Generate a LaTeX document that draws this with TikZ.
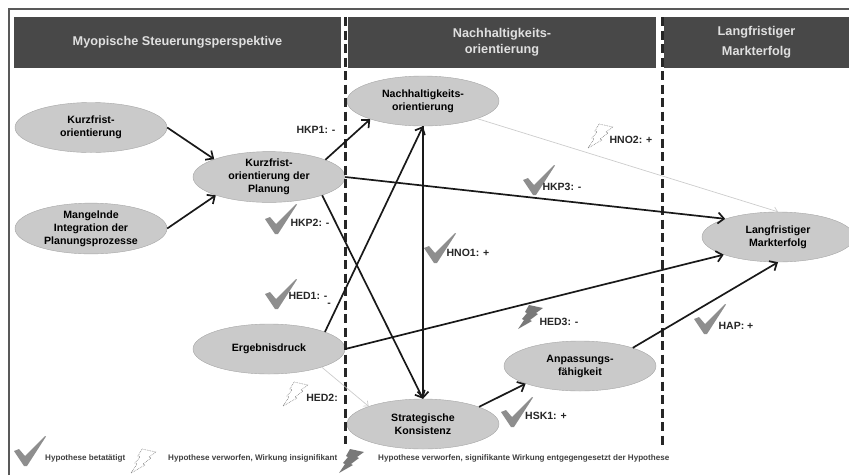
\documentclass[tikz,border=0pt]{standalone}
\usepackage{fontspec}
\setmainfont{Liberation Sans}
\usetikzlibrary{shapes.geometric,arrows.meta}
\definecolor{kopfgrau}{HTML}{484848}
\definecolor{ovalgrau}{HTML}{CACACA}
\definecolor{haken}{HTML}{8E8E8E}
\tikzset{
  kopf/.style = {fill = kopfgrau, shape = rectangle, minimum height = 51pt, inner sep = 0pt, align = center, text = white!88!black, font = \fontsize{12.7}{16}\selectfont\bfseries},
  oval/.style = {fill = ovalgrau, draw = gray!70, shape = ellipse, minimum width = 152pt, minimum height = 50pt, inner sep = 0pt, align = center, font = \fontsize{10.6}{13}\selectfont\bfseries},
  wirkung/.style = {-{Straight Barb[length = 6pt, width = 11pt]}, line width = 1.7pt, black!90},
  schwach/.style = {-{Straight Barb[length = 4pt, width = 7pt]}, line width = 0.7pt, gray!40},
  trenner/.style = {line width = 3pt, dash pattern = on 9pt off 4.5pt, black!85},
  hypo/.style = {inner sep = 0pt, text = black!85, font = \fontsize{10.5}{11}\selectfont\bfseries},
  legende/.style = {inner sep = 0pt, anchor = west, text = black!75, font = \fontsize{8.1}{8}\selectfont\bfseries},
  pics/hakenmark/.style = {code = {
    \fill[haken] (0,15) -- (5,13) -- (11,20) -- (31,0) -- (32,0.5) -- (13,30) -- (10,30) -- cycle;
  }},
  pics/blitzvoll/.style = {code = {
    \fill[haken!85!black] (11,0) -- (25,3) -- (18,8) -- (20,9) -- (12,15) -- (14,16) -- (0,24) -- (6,15) -- (4,14) -- (9,8) -- (7,7) -- cycle;
  }},
  pics/blitzleer/.style = {code = {
    \draw[haken, densely dotted, line width = 0.7pt] (11,0) -- (25,3) -- (18,8) -- (20,9) -- (12,15) -- (14,16) -- (0,24) -- (6,15) -- (4,14) -- (9,8) -- (7,7) -- cycle;
  }}
}

\begin{document}
\begin{tikzpicture}[x = 1pt, y = -1pt]
\useasboundingbox (0,0) rectangle (849,475);
% rahmen
\coordinate (ru) at (9,475);
\coordinate (ro) at (9,9);
\coordinate (rr) at (849,9);
\draw[line width = 1.5pt, black!65] (ru) -- (ro) -- (rr);
% kopfzeile
\node[kopf, minimum width = 327pt] (kopf1) at (177.5,42.5) {Myopische Steuerungsperspektive};
\node[kopf, minimum width = 308pt] (kopf2) at (502,42.5) {Nachhaltigkeits-\\orientierung};
\node[kopf, minimum width = 185pt] (kopf3) at (756.5,42.5) {Langfristiger\\[4pt]Markterfolg};
% konstrukte
\node[oval] (kurz) at (91,127.5) {Kurzfrist-\\orientierung};
\node[oval] (mangel) at (91,228.5) {Mangelnde\\Integration der\\Planungsprozesse};
\node[oval] (planung) at (269,177) {Kurzfrist-\\orientierung der\\Planung};
\node[oval] (nachhalt) at (423,101) {Nachhaltigkeits-\\orientierung};
\node[oval] (ergebnis) at (269,349) {Ergebnisdruck};
\node[oval] (konsistenz) at (423,424) {Strategische\\Konsistenz};
\node[oval] (anpassung) at (580,366) {Anpassungs-\\fähigkeit};
\node[oval] (erfolg) at (778,237) {Langfristiger\\Markterfolg};
% trennlinien
\coordinate (t1o) at (345,17);
\coordinate (t1u) at (345,444);
\coordinate (t2o) at (662,17);
\coordinate (t2u) at (662,449);
\draw[trenner] (t1o) -- (t1u);
\draw[trenner] (t2o) -- (t2u);
% pfade
\draw[wirkung] (kurz.east) -- (planung.162);
\draw[wirkung] (mangel.east) -- (planung.199);
\draw[wirkung] (planung.17) -- (nachhalt.199);
\draw[wirkung] (planung.east) -- (erfolg.161);
\draw[wirkung] (planung.341) -- (konsistenz.north);
\draw[wirkung] (ergebnis.17) -- (nachhalt.south);
\draw[wirkung] (nachhalt.south) -- (konsistenz.north);
\draw[wirkung] (ergebnis.east) -- (erfolg.198);
\draw[wirkung] (konsistenz.17) -- (anpassung.198);
\draw[wirkung] (anpassung.19) -- (erfolg.south);
\draw[schwach] (ergebnis.341) -- (konsistenz.162);
\draw[schwach] (nachhalt.342) -- (erfolg.north);
% symbole
\pic at (265,204) {hakenmark};
\pic at (523,165) {hakenmark};
\pic at (424,233) {hakenmark};
\pic at (265,279) {hakenmark};
\pic at (694,304) {hakenmark};
\pic at (501,397) {hakenmark};
\pic at (14,436) {hakenmark};
\pic at (588,124) {blitzleer};
\pic at (283,382) {blitzleer};
\pic at (131,449) {blitzleer};
\pic at (518,305) {blitzvoll};
\pic at (339,449) {blitzvoll};
% hypothesen
\node[hypo] (hkp1) at (316,130) {HKP1: -};
\node[hypo] (hkp2) at (310,223) {HKP2: -};
\node[hypo] (hkp3) at (562,187) {HKP3: -};
\node[hypo] (hno1) at (468,253) {HNO1: +};
\node[hypo] (hno2) at (631,140) {HNO2: +};
\node[hypo] (hed1) at (308,296) {HED1: -};
\node[hypo] (hedstrich) at (329,305) {-};
\node[hypo] (hed2) at (322,398) {HED2:};
\node[hypo] (hed3) at (559,322) {HED3: -};
\node[hypo] (hap) at (736,326) {HAP: +};
\node[hypo] (hsk1) at (546,416) {HSK1: +};
% legende
\node[legende] (leg1) at (45,458) {Hypothese betatätigt};
\node[legende] (leg2) at (168,458) {Hypothese verworfen, Wirkung insignifikant};
\node[legende] (leg3) at (378,458) {Hypothese verworfen, signifikante Wirkung entgegengesetzt der Hypothese};
\end{tikzpicture}
\end{document}
